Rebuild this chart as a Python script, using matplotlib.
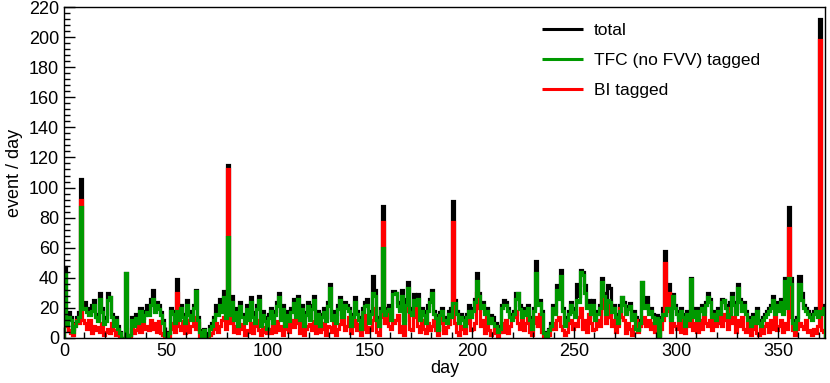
import numpy as np
import matplotlib
matplotlib.use("Agg")
import matplotlib.pyplot as plt
from matplotlib.ticker import MultipleLocator
from matplotlib.lines import Line2D

plt.rcParams['font.family'] = ['Liberation Sans', 'DejaVu Sans']

total = [
    47,12,17,14,6,10,14,17,106,22,
    24,20,18,22,25,16,13,30,20,12,
    14,30,27,16,10,14,8,4,0,0,
    43,0,2,14,10,16,12,20,13,18,
    22,18,26,32,20,24,22,17,12,3,
    0,4,20,18,12,39,14,22,16,12,
    25,18,14,22,32,14,5,2,6,0,
    3,8,10,14,22,18,26,20,31,16,
    115,18,28,14,20,10,24,16,12,22,
    14,27,17,12,22,28,10,18,14,8,
    16,20,12,18,24,30,14,22,10,18,
    13,20,26,16,28,14,22,9,17,24,
    14,22,28,12,18,10,16,20,13,24,
    36,14,18,12,22,27,16,24,22,20,
    10,16,27,18,14,8,20,24,26,12,
    18,41,32,14,10,20,88,18,20,22,
    14,31,30,24,20,32,12,26,37,20,
    18,29,26,29,14,20,18,12,22,26,
    32,18,15,6,17,20,14,12,18,20,
    91,25,18,12,16,14,10,16,22,16,
    20,26,43,30,22,24,18,20,12,15,
    14,10,5,8,22,25,24,20,16,14,
    18,30,30,22,16,20,18,22,14,8,
    20,51,24,25,18,4,2,6,10,22,
    18,35,28,45,20,10,14,18,24,20,
    16,36,28,45,44,35,22,25,18,25,
    14,18,22,40,30,18,35,33,20,22,
    16,12,22,27,24,18,21,23,14,18,
    14,6,12,37,22,27,18,20,16,12,
    15,2,14,20,58,30,36,14,29,22,
    18,14,20,16,10,18,14,40,16,20,
    14,20,22,18,24,30,26,16,18,14,
    20,18,26,25,22,16,24,30,24,18,
    36,26,20,24,18,14,10,16,12,20,
    12,10,14,16,18,20,22,28,18,24,
    20,26,18,40,22,87,40,12,8,14,
    41,30,22,20,18,16,14,18,20,16,
    212,18,22,
]

tfc_tagged = [
    43,9,14,12,4,8,11,14,87,19,
    20,17,15,18,22,14,11,26,17,9,
    11,25,27,14,8,12,6,3,0,0,
    43,0,2,12,8,13,10,18,11,15,
    17,15,22,26,17,22,19,15,10,2,
    0,3,18,16,10,18,12,20,14,10,
    22,15,12,20,31,12,4,1,5,0,
    2,6,8,12,16,15,22,17,27,13,
    67,15,24,12,17,8,21,14,10,19,
    12,24,14,10,19,25,8,15,11,6,
    13,18,10,15,21,27,12,19,8,15,
    11,17,23,14,26,12,19,8,15,21,
    12,19,25,10,16,8,14,17,11,21,
    33,12,15,10,19,25,14,22,20,18,
    8,14,24,16,12,6,17,21,22,10,
    16,30,28,12,8,18,60,15,18,19,
    12,29,30,21,18,28,10,22,33,17,
    15,25,22,26,12,18,15,10,18,24,
    30,16,13,5,15,18,12,10,16,14,
    23,23,16,10,14,12,8,14,18,14,
    18,24,38,28,20,22,16,18,10,13,
    10,8,4,6,20,22,22,18,14,12,
    16,26,30,19,14,18,15,20,12,6,
    18,43,22,23,16,3,1,5,8,20,
    16,32,26,41,18,8,12,16,22,17,
    14,25,24,44,42,30,20,22,16,22,
    12,16,20,37,28,16,25,24,17,20,
    14,10,18,27,22,16,19,21,12,16,
    6,5,10,37,20,22,16,18,14,10,
    13,1,12,16,15,20,20,12,28,20,
    16,12,18,14,8,16,12,39,14,18,
    12,18,20,16,22,27,24,14,16,12,
    18,16,24,25,20,14,16,27,22,16,
    33,24,18,22,16,12,8,14,10,18,
    10,8,12,14,16,18,20,25,16,22,
    18,24,16,38,20,40,36,10,6,12,
    36,25,20,18,16,14,12,16,18,14,
    18,16,20,
]

bi_tagged = [
    14,8,5,3,2,9,12,10,92,12,
    10,6,12,3,8,5,7,4,10,2,
    4,6,3,10,5,2,4,1,0,0,
    0,0,0,6,3,5,8,4,9,6,
    8,5,12,6,10,4,11,3,2,0,
    0,0,6,10,4,30,8,5,11,3,
    12,4,8,14,6,10,1,0,2,0,
    0,2,3,6,10,4,8,12,14,6,
    112,10,14,4,8,3,6,9,2,5,
    4,10,3,8,12,5,2,7,4,3,
    6,3,9,4,11,5,8,2,6,10,
    4,12,7,13,10,3,13,2,6,8,
    9,5,11,3,14,4,6,10,2,8,
    7,4,10,2,6,9,12,5,8,14,
    3,8,12,5,9,2,6,15,4,7,
    5,12,20,4,2,14,77,10,18,8,
    6,10,12,15,4,8,2,20,18,6,
    5,14,20,8,4,12,6,3,10,5,
    8,12,5,2,10,14,3,7,9,15,
    77,10,4,2,8,6,3,10,12,5,
    6,10,30,20,8,12,3,14,5,2,
    3,6,1,4,10,4,12,3,8,14,
    14,18,10,6,12,5,10,14,4,2,
    10,14,8,16,4,1,0,2,6,10,
    6,12,14,8,5,2,4,10,12,6,
    10,8,14,20,6,12,4,16,10,5,
    6,12,8,30,20,10,14,22,8,12,
    4,8,20,14,12,3,10,6,2,8,
    12,4,8,10,14,8,12,6,10,4,
    8,0,6,12,50,18,30,4,10,8,
    6,10,4,12,3,14,8,12,5,10,
    4,12,6,14,10,8,12,5,16,8,
    10,14,8,16,12,6,20,10,14,4,
    12,8,14,6,4,10,2,6,8,3,
    2,6,3,8,10,4,12,6,14,5,
    8,12,4,10,6,73,14,5,2,6,
    10,8,6,12,4,5,2,6,3,8,
    198,5,4,
]

labels = ["total", "TFC (no FVV) tagged", "BI tagged"]
colors = ["black", "#009900", "#ff0000"]

edges = np.arange(len(total) + 1)

fig = plt.figure(figsize=(8.3, 3.83), dpi=100)
ax = fig.add_axes([64/830, 45/383, (825-64)/830, (338-7)/383])

lw = 2.3
ax.stairs(total, edges, color=colors[0], lw=lw, baseline=0)
ax.stairs(bi_tagged, edges, color=colors[2], lw=lw, baseline=0)
ax.stairs(tfc_tagged, edges, color=colors[1], lw=lw, baseline=0)

ax.set_xlim(0, 373)
ax.set_ylim(0, 220)
ax.xaxis.set_major_locator(MultipleLocator(50))
ax.xaxis.set_minor_locator(MultipleLocator(10))
ax.yaxis.set_major_locator(MultipleLocator(20))
ax.yaxis.set_minor_locator(MultipleLocator(4))
ax.tick_params(which='both', direction='in', top=False, right=False, labelsize=13, width=1)
ax.tick_params(which='major', length=8)
ax.tick_params(which='minor', length=4)
for s in ax.spines.values():
    s.set_linewidth(1)

ax.set_xlabel("day", fontsize=13, labelpad=0)
ax.set_ylabel("event / day", fontsize=13, labelpad=4)

handles = [Line2D([], [], color=c, lw=2.2, solid_capstyle='butt') for c in colors]
ax.legend(handles, labels, loc='upper left', bbox_to_anchor=(0.607, 1.0),
          frameon=False, fontsize=12.5, handlelength=2.4, handletextpad=0.6,
          labelspacing=0.85)

fig.savefig("out.png", dpi=100)
